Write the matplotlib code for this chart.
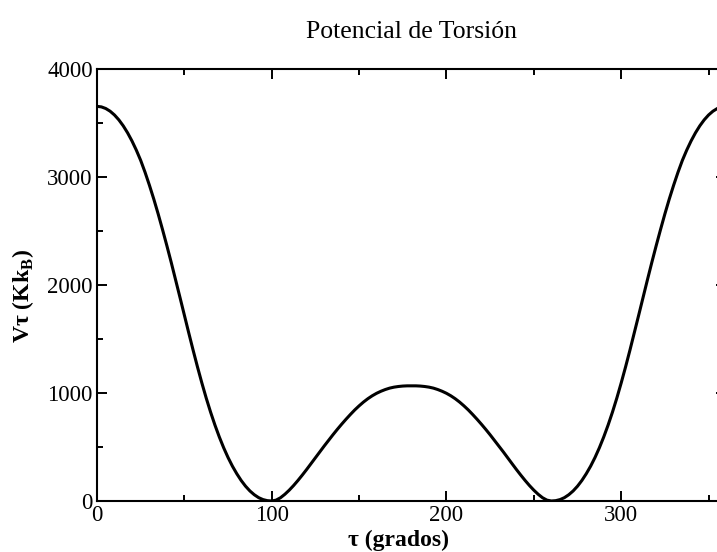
import matplotlib
matplotlib.use("Agg")
import matplotlib.pyplot as plt
from matplotlib.ticker import MultipleLocator

# Torsional potential V(tau) in K k_B, sampled every 2.5 degrees from 0 to 360
v_tau = [
    3650, 3645, 3630, 3605, 3570, 3525, 3470, 3405, 3330, 3245,
    3150, 3040, 2920, 2792, 2655, 2510, 2360, 2205, 2045, 1882,
    1718, 1555, 1395, 1240, 1092, 952, 822, 702, 592, 492,
    402, 322, 252, 190, 137, 93, 58, 31, 13, 3,
    0, 8, 30, 62, 100, 143, 190, 240, 292, 346,
    400, 455, 508, 560, 612, 662, 710, 756, 800, 842,
    880, 915, 946, 973, 996, 1015, 1031, 1044, 1053, 1059,
    1063, 1065, 1065,
    1065, 1063, 1059, 1053, 1044, 1031, 1015, 996, 973, 946,
    915, 880, 842, 800, 756, 710, 662, 612, 560, 508,
    455, 400, 346, 292, 240, 190, 143, 100, 62, 30,
    8, 0, 3, 13, 31, 58, 93, 137, 190, 252,
    322, 402, 492, 592, 702, 822, 952, 1092, 1240, 1395,
    1555, 1718, 1882, 2045, 2205, 2360, 2510, 2655, 2792, 2920,
    3040, 3150, 3245, 3330, 3405, 3470, 3525, 3570, 3605, 3630,
    3645, 3650,
]
tau_step = 2.5
tau_deg = [i * tau_step for i in range(len(v_tau))]

x_ticks = [0, 100, 200, 300]
y_ticks = [0, 1000, 2000, 3000, 4000]

plt.rcParams["font.family"] = ["Liberation Serif", "DejaVu Serif"]
plt.rcParams["mathtext.fontset"] = "custom"
plt.rcParams["mathtext.rm"] = "Liberation Serif"
plt.rcParams["mathtext.bf"] = "Liberation Serif:bold"

fig = plt.figure(figsize=(7.17, 5.52), dpi=100)
ax = fig.add_axes([0.1353, 0.0924, 0.8773, 0.7835])

ax.plot(tau_deg, v_tau, color="black", lw=2.2, solid_joinstyle="round")

ax.set_xlim(0, 360)
ax.set_ylim(0, 4000)
ax.set_xticks(x_ticks)
ax.set_yticks(y_ticks)
ax.xaxis.set_minor_locator(MultipleLocator(50))
ax.yaxis.set_minor_locator(MultipleLocator(500))
ax.tick_params(which="both", direction="in", top=True, right=True,
               width=1.4, labelsize=16.5, pad=3)
ax.tick_params(which="major", length=7)
ax.tick_params(which="minor", length=4)
for s in ax.spines.values():
    s.set_linewidth(1.5)

ax.set_xlabel("τ (grados)", fontsize=17, fontweight="bold")
ax.xaxis.set_label_coords(0.479, -0.066)
ax.set_ylabel("Vτ (Kk$_{\\mathbf{B}}$)", fontsize=17, fontweight="bold")
ax.yaxis.set_label_coords(-0.097, 0.474)
ax.set_title("Potencial de Torsión", fontsize=18.5, pad=22)

fig.savefig("out.png", dpi=100)
